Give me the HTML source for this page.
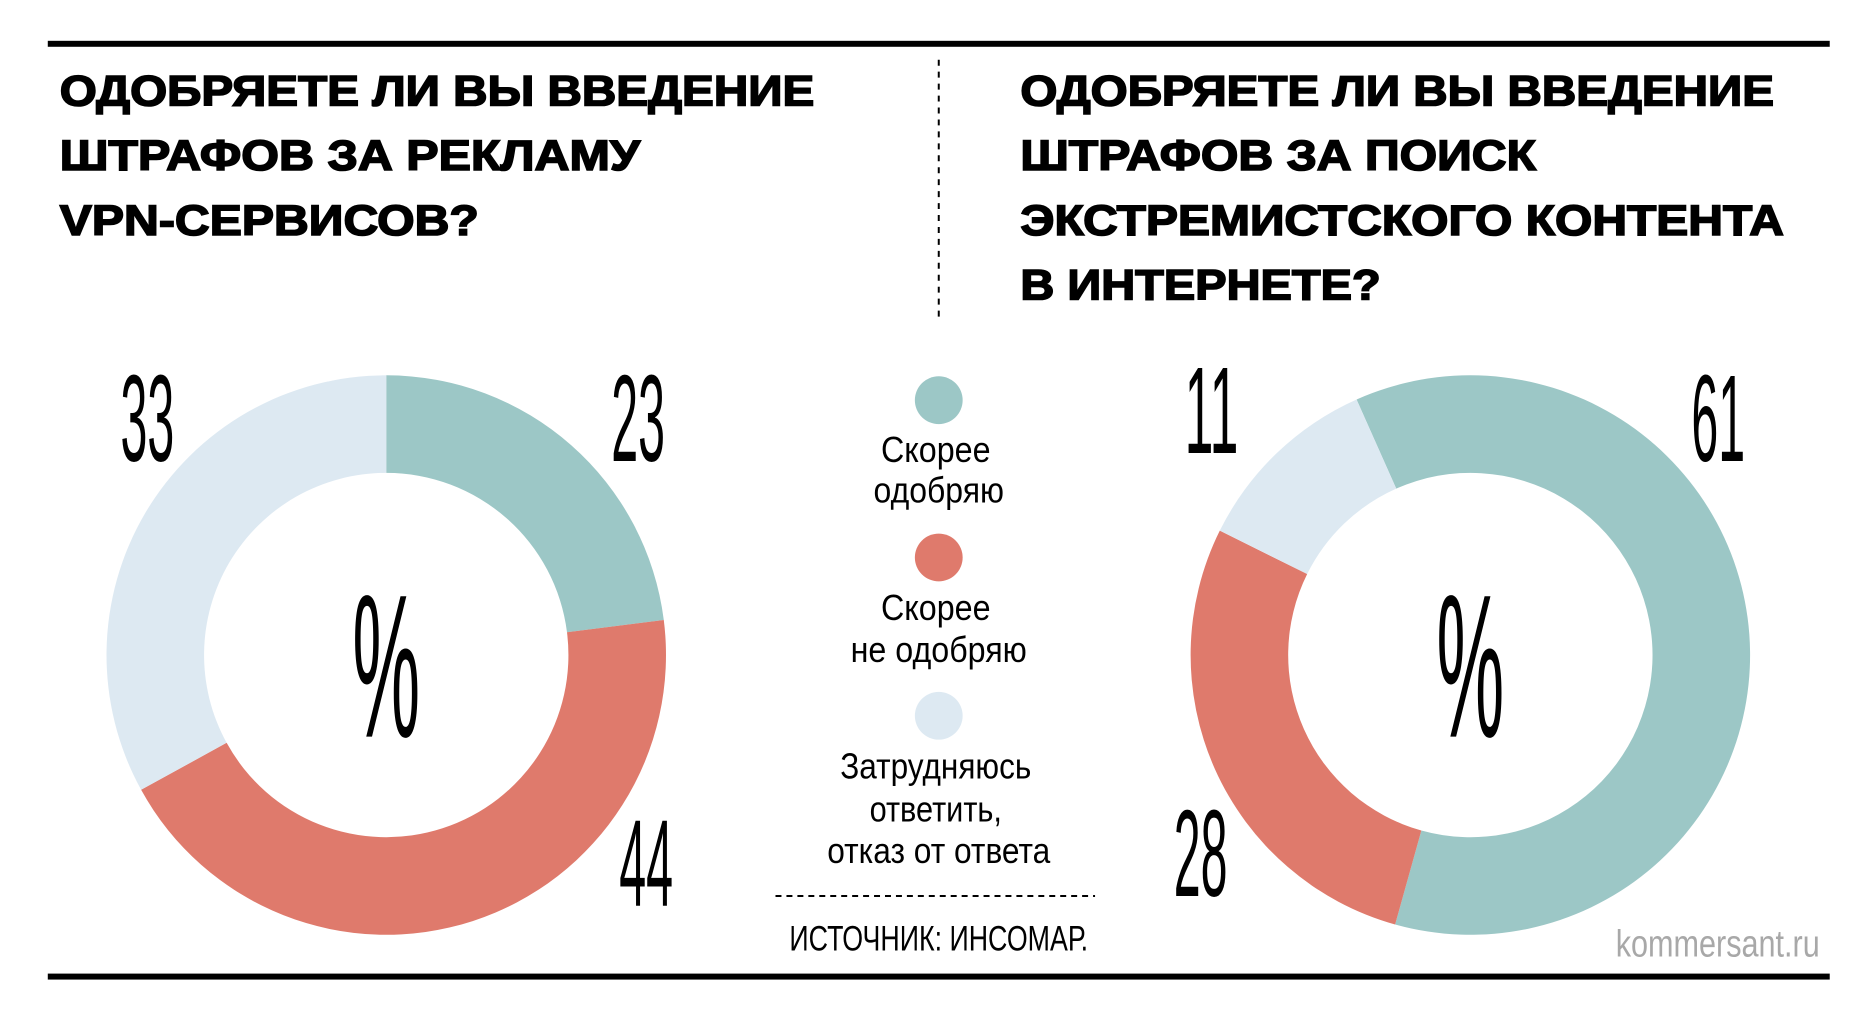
<!DOCTYPE html>
<html><head><meta charset="utf-8"><style>
html,body{margin:0;padding:0;background:#fff;}
svg{display:block;}
.t{font-family:"Liberation Sans",sans-serif;font-weight:900;fill:#000;stroke:#000;stroke-width:1.6;}
.n{font-family:"Liberation Sans Narrow","Liberation Sans",sans-serif;fill:#000;}
</style></head><body>
<svg id="chart" width="1876" height="1022" viewBox="0 0 1876 1022" xmlns="http://www.w3.org/2000/svg">
<g transform="scale(0.9955)">
<rect x="48" y="41" width="1790" height="6" fill="#000"/>
<rect x="48" y="978" width="1790" height="6" fill="#000"/>
<line x1="943" y1="60" x2="943" y2="318" stroke="#000" stroke-width="2" stroke-dasharray="6,6"/>
<g>
<text class="t" x="60" y="106" font-size="43" textLength="758" lengthAdjust="spacingAndGlyphs">ОДОБРЯЕТЕ ЛИ ВЫ ВВЕДЕНИЕ</text>
<text class="t" x="60" y="171" font-size="43" textLength="583" lengthAdjust="spacingAndGlyphs">ШТРАФОВ ЗА РЕКЛАМУ</text>
<text class="t" x="60" y="236" font-size="43" textLength="421" lengthAdjust="spacingAndGlyphs">VPN-СЕРВИСОВ?</text>
</g>
<g>
<text class="t" x="1025" y="106" font-size="43" textLength="757" lengthAdjust="spacingAndGlyphs">ОДОБРЯЕТЕ ЛИ ВЫ ВВЕДЕНИЕ</text>
<text class="t" x="1025" y="171" font-size="43" textLength="518" lengthAdjust="spacingAndGlyphs">ШТРАФОВ ЗА ПОИСК</text>
<text class="t" x="1025" y="236" font-size="43" textLength="767" lengthAdjust="spacingAndGlyphs">ЭКСТРЕМИСТСКОГО КОНТЕНТА</text>
<text class="t" x="1025" y="301" font-size="43" textLength="362" lengthAdjust="spacingAndGlyphs">В ИНТЕРНЕТЕ?</text>
</g>
<g id="donuts"></g>
<g>
<circle cx="943" cy="402" r="24" fill="#9cc7c6"/>
<text class="n" x="940" y="464" font-size="36" text-anchor="middle" textLength="110" lengthAdjust="spacingAndGlyphs">Скорее</text>
<text class="n" x="943" y="505" font-size="36" text-anchor="middle" textLength="131" lengthAdjust="spacingAndGlyphs">одобряю</text>
<circle cx="943" cy="560" r="24" fill="#df7a6c"/>
<text class="n" x="940" y="623" font-size="36" text-anchor="middle" textLength="110" lengthAdjust="spacingAndGlyphs">Скорее</text>
<text class="n" x="943" y="665" font-size="36" text-anchor="middle" textLength="177" lengthAdjust="spacingAndGlyphs">не одобряю</text>
<circle cx="943" cy="719" r="24" fill="#dde9f2"/>
<text class="n" x="940" y="782" font-size="36" text-anchor="middle" textLength="192" lengthAdjust="spacingAndGlyphs">Затрудняюсь</text>
<text class="n" x="940" y="825" font-size="36" text-anchor="middle" textLength="133" lengthAdjust="spacingAndGlyphs">ответить,</text>
<text class="n" x="943" y="867" font-size="36" text-anchor="middle" textLength="224" lengthAdjust="spacingAndGlyphs">отказ от ответа</text>
</g>
<line x1="779" y1="900" x2="1100" y2="900" stroke="#000" stroke-width="2" stroke-dasharray="6,5"/>
<text class="n" x="943" y="955" font-size="35" text-anchor="middle" textLength="300" lengthAdjust="spacingAndGlyphs">ИСТОЧНИК: ИНСОМАР.</text>
<text class="n" x="1828" y="961" font-size="38" text-anchor="end" style="fill:#a8a8a8" textLength="205" lengthAdjust="spacingAndGlyphs">kommersant.ru</text>
</g>
</svg>
<script>
const categories = ["Скорее одобряю", "Скорее не одобряю", "Затрудняюсь ответить"];
const colors = ["#9cc7c6", "#df7a6c", "#dde9f2"];
const vpnValues = [23, 44, 33];
const extremistValues = [61, 28, 11];
const vpnStartDeg = 0;
const extremistStartDeg = -24;

const NS = "http://www.w3.org/2000/svg";
const root = document.getElementById("donuts");
function pt(cx, cy, r, deg) { const a = (deg - 90) * Math.PI / 180; return [cx + r * Math.cos(a), cy + r * Math.sin(a)]; }
function drawDonut(name, values, startDeg, cx, cy, R, r, labelPos) {
  const g = document.createElementNS(NS, "g");
  
  
  const total = values.reduce((a, b) => a + b, 0);
  let a0 = startDeg;
  values.forEach((v, i) => {
    const a1 = a0 + v / total * 360;
    const large = (a1 - a0) > 180 ? 1 : 0;
    const p1 = pt(cx, cy, R, a0), p2 = pt(cx, cy, R, a1), p3 = pt(cx, cy, r, a1), p4 = pt(cx, cy, r, a0);
    const path = document.createElementNS(NS, "path");
    path.setAttribute("d", `M${p1[0]},${p1[1]} A${R},${R} 0 ${large} 1 ${p2[0]},${p2[1]} L${p3[0]},${p3[1]} A${r},${r} 0 ${large} 0 ${p4[0]},${p4[1]} Z`);
    path.setAttribute("fill", colors[i]);
    
    
    g.appendChild(path);
    const t = document.createElementNS(NS, "text");
    t.setAttribute("class", "n");
    t.setAttribute("x", labelPos[i][0]);
    t.setAttribute("y", labelPos[i][1]);
    t.setAttribute("font-size", "124");
    t.setAttribute("text-anchor", "middle");
    t.setAttribute("textLength", String(v).length > 1 ? "54" : "30");
    t.setAttribute("lengthAdjust", "spacingAndGlyphs");
    t.textContent = v;
    
    
    g.appendChild(t);
    a0 = a1;
  });
  const pc = document.createElementNS(NS, "text");
  pc.setAttribute("class", "n");
  pc.setAttribute("x", cx);
  pc.setAttribute("y", cy + 82);
  pc.setAttribute("font-size", "205");
  pc.setAttribute("text-anchor", "middle");
  pc.setAttribute("textLength", "68");
  pc.setAttribute("lengthAdjust", "spacingAndGlyphs");
  pc.textContent = "%";
  
  
  g.appendChild(pc);
  root.appendChild(g);
}
drawDonut("vpn-donut", vpnValues, vpnStartDeg, 388, 658, 281, 183, [[641, 463], [649, 910], [148, 463]]);
drawDonut("extremist-donut", extremistValues, extremistStartDeg, 1477, 658, 281, 183, [[1726, 463], [1206, 900], [1217, 455]]);
</script>
</body></html>
